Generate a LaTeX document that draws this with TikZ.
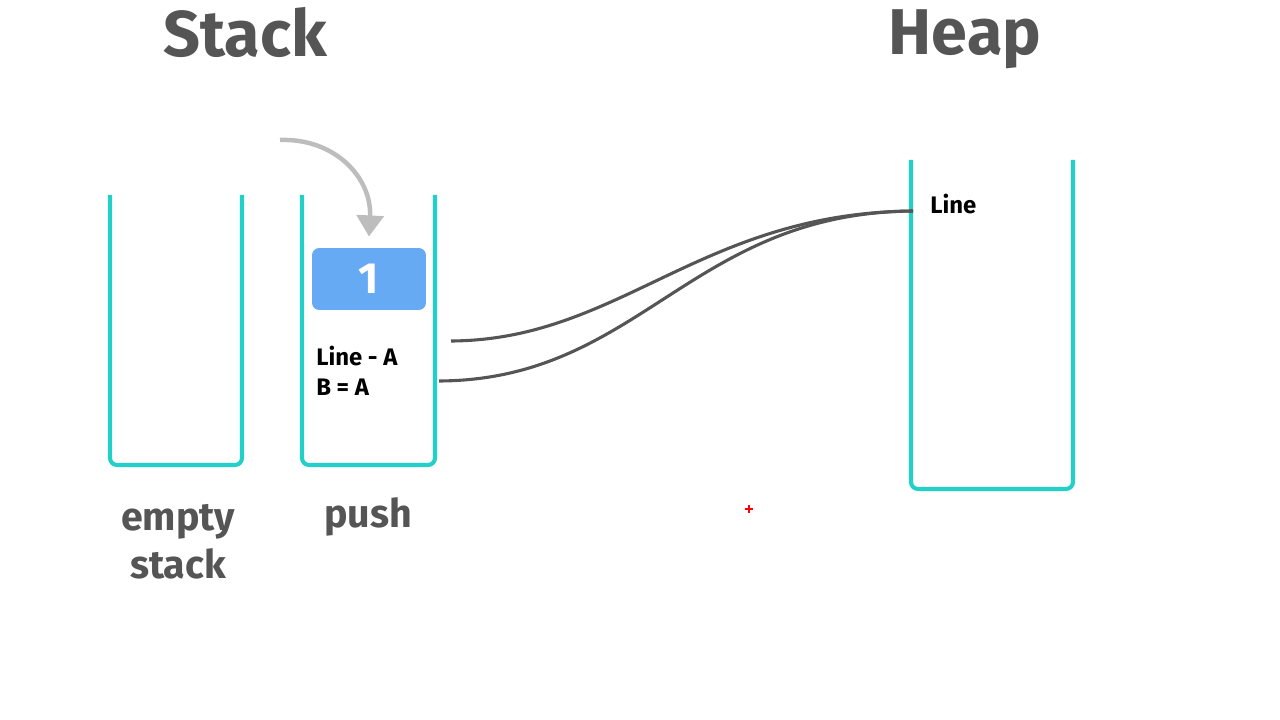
\documentclass[tikz,border=0pt]{standalone}
\usepackage{fontspec}
\setmainfont{Fira Sans}
\usepackage{tikz}
\usetikzlibrary{arrows.meta,positioning}
\definecolor{steal}{HTML}{22D0C8}
\definecolor{sblue}{HTML}{66AAF4}
\definecolor{sgray}{HTML}{555555}
\definecolor{sarrow}{HTML}{BDBDBD}

\begin{document}
\begin{tikzpicture}[
  x=0.025cm, y=-0.025cm,
  wall/.style={draw=steal, line width=2.9pt, rounded corners=5pt},
  title/.style={font=\fontsize{46}{50}\selectfont\bfseries, text=sgray},
  caption/.style={font=\fontsize{28}{34}\selectfont\bfseries, text=sgray, align=center},
  cell/.style={fill=sblue, rounded corners=5pt, minimum width=81pt, minimum height=44pt,
    font=\fontsize{31}{31}\selectfont\bfseries, text=white},
  val/.style={font=\fontsize{17}{21}\selectfont\bfseries, text=black, align=left, anchor=north west, inner sep=0pt},
  ref/.style={draw=sgray, line width=2.2pt},
  pusharr/.style={draw=sarrow, line width=3.2pt, -{Triangle[length=15pt,width=19pt]}},
]
\useasboundingbox (0,0) rectangle (1280,720);
% titles
\node[title] (stackT) at (245,33) {Stack};
\node[title] (heapT) at (965,39) {Heap};
% containers
\draw[wall] (110,195) -- (110,465) -- (242,465) -- (242,195);
\draw[wall] (302,195) -- (302,465) -- (435,465) -- (435,195);
\draw[wall] (911,160) -- (911,489) -- (1073,489) -- (1073,160);
% captions
\node[caption] (emptyC) at (178,542) {empty\\stack};
\node[caption] (pushC) at (368,517) {push};
% pushed frame
\node[cell] (frame) at (369,279) {1};
\node[val] (vars) at (316,346) {Line - A\\B = A};
\node[val] (obj) at (930,194) {Line};
% push arrow
\coordinate (pushFrom) at (280,140);
\draw[pusharr] (pushFrom) .. controls (335,138) and (372,178) .. ([yshift=8pt]frame.north);
% references into the heap
\coordinate (refA) at (451,341);
\coordinate (refB) at (439,381);
\coordinate (objIn) at (913,211);
\draw[ref] (refA) .. controls (620,340) and (700,213) .. (objIn);
\draw[ref] (refB) .. controls (640,380) and (690,213) .. (objIn);
% marker
\draw[red, line width=1.3pt] (745,509) -- (753,509) (749,505) -- (749,513);
\end{tikzpicture}
\end{document}
